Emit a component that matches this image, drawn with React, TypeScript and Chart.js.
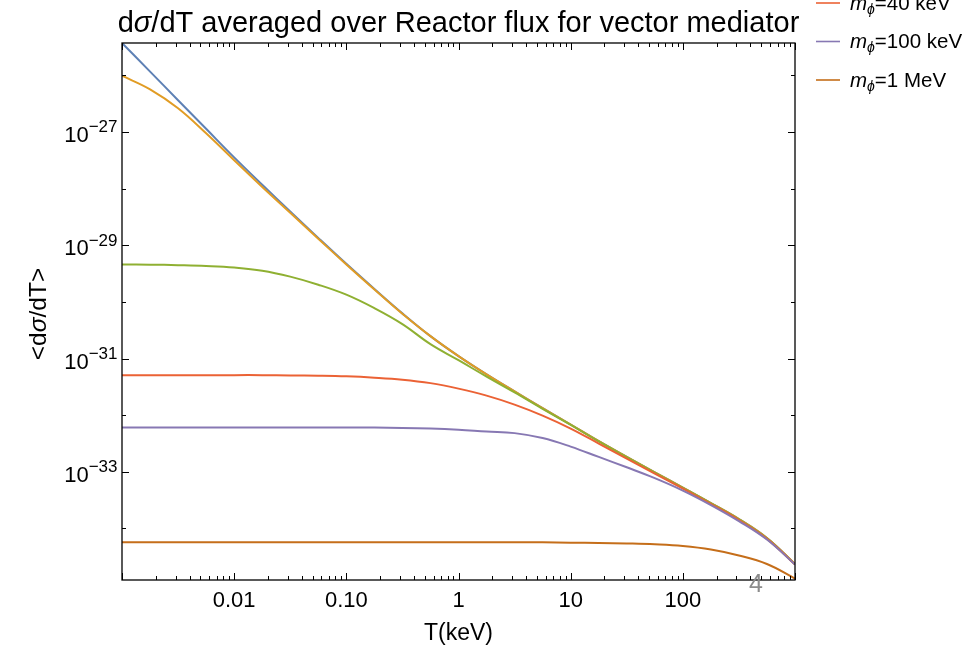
import React, { useEffect, useRef } from 'react';
import { Chart, registerables } from 'chart.js';

Chart.register(...registerables);

// ---- data ----
const T_keV = [
  0.001, 0.00178, 0.00316, 0.00562, 0.01, 0.0178, 0.0316, 0.0562, 0.1, 0.178, 0.316, 0.562, 1,
  1.78, 3.16, 5.62, 10, 17.8, 31.6, 56.2, 100, 178, 316, 562, 1000,
];

const massless = [
  3.72e-26, 1.164e-26, 3.64e-27, 1.138e-27, 3.56e-28, 1.17e-28, 3.95e-29, 1.35e-29, 4.7e-30, 1.69e-30, 6.27e-31, 2.483e-31, 1.102e-31,
  5.24e-32, 2.624e-32, 1.33e-32, 6.84e-33, 3.48e-33, 1.84e-33, 9.82e-34, 5.27e-34, 2.805e-34, 1.466e-34, 6.78e-35, 2.355e-35,
];
const m1keV = [
  9.82e-27, 5.66e-27, 2.62e-27, 9.48e-28, 3.17e-28, 1.069e-28, 3.75e-29, 1.3e-29, 4.59e-30, 1.656e-30, 6.17e-31, 2.483e-31, 1.102e-31,
  5.24e-32, 2.624e-32, 1.33e-32, 6.84e-33, 3.48e-33, 1.84e-33, 9.82e-34, 5.27e-34, 2.805e-34, 1.466e-34, 6.78e-35, 2.355e-35,
];
const m10keV = [
  4.57e-30, 4.54e-30, 4.45e-30, 4.31e-30, 4.05e-30, 3.56e-30, 2.79e-30, 2.01e-30, 1.34e-30, 7.74e-31, 4.05e-31, 1.795e-31, 9.35e-32,
  4.79e-32, 2.52e-32, 1.294e-32, 6.73e-33, 3.44e-33, 1.82e-33, 9.68e-34, 5.2e-34, 2.77e-34, 1.445e-34, 6.68e-35, 2.33e-35,
];
const m40keV = [
  5.09e-32, 5.09e-32, 5.09e-32, 5.09e-32, 5.09e-32, 5.09e-32, 5.02e-32, 4.97e-32, 4.85e-32, 4.6e-32, 4.24e-32, 3.68e-32, 2.94e-32,
  2.21e-32, 1.535e-32, 9.82e-33, 5.79e-33, 3.15e-33, 1.71e-33, 9.31e-34, 5.06e-34, 2.69e-34, 1.406e-34, 6.55e-35, 2.32e-35,
];
const m100keV = [
  6.08e-33, 6.08e-33, 6.08e-33, 6.08e-33, 6.08e-33, 6.08e-33, 6.08e-33, 6.08e-33, 6.03e-33, 6.03e-33, 5.96e-33, 5.79e-33, 5.51e-33,
  5.13e-33, 4.82e-33, 3.94e-33, 2.786e-33, 1.832e-33, 1.202e-33, 7.74e-34, 4.67e-34, 2.59e-34, 1.349e-34, 6.37e-35, 2.31e-35,
];
const m1MeV = [
  5.69e-35, 5.69e-35, 5.69e-35, 5.69e-35, 5.69e-35, 5.69e-35, 5.69e-35, 5.69e-35, 5.69e-35, 5.69e-35, 5.69e-35, 5.69e-35, 5.69e-35,
  5.69e-35, 5.69e-35, 5.69e-35, 5.61e-35, 5.55e-35, 5.43e-35, 5.24e-35, 4.89e-35, 4.24e-35, 3.33e-35, 2.355e-35, 1.306e-35,
];

const seriesValues = [massless, m1keV, m10keV, m40keV, m100keV, m1MeV];
const seriesMass = ['0', '1 keV', '10 keV', '40 keV', '100 keV', '1 MeV'];
const seriesColors = ['#5E81B5', '#E19C24', '#8FB032', '#EB6235', '#8778B3', '#C56E1A'];

const xLabelValues = [0.01, 0.1, 1, 10, 100];
const xLabelTexts = ['0.01', '0.10', '1', '10', '100'];
const yLabelExponents = [-27, -29, -31, -33];
const yMinorExponents = [-26, -28, -30, -32, -34];

const X_MIN = 0.001;
const X_MAX = 1000;
const Y_MIN = 1.23e-35;
const Y_MAX = 3.72e-26;

const FONT = '"Liberation Sans", Arial, Helvetica, sans-serif';

type Part = { t: string; italic?: boolean; size: number; dy?: number };

function drawRich(ctx: CanvasRenderingContext2D, parts: Part[], x: number, y: number, align: 'left' | 'center' | 'right') {
  let total = 0;
  const widths = parts.map((p) => {
    ctx.font = `${p.italic ? 'italic ' : ''}${p.size}px ${FONT}`;
    const w = ctx.measureText(p.t).width;
    total += w;
    return w;
  });
  let cx = align === 'center' ? x - total / 2 : align === 'right' ? x - total : x;
  ctx.textAlign = 'left';
  ctx.textBaseline = 'alphabetic';
  parts.forEach((p, i) => {
    ctx.font = `${p.italic ? 'italic ' : ''}${p.size}px ${FONT}`;
    ctx.fillText(p.t, cx, y + (p.dy || 0));
    cx += widths[i];
  });
}

const overlay = {
  id: 'overlay',
  afterDraw(chart: any) {
    const ctx: CanvasRenderingContext2D = chart.ctx;
    const xs = chart.scales.x;
    const ys = chart.scales.y;
    const { left, right, top, bottom } = chart.chartArea;
    ctx.save();
    ctx.strokeStyle = '#000';
    ctx.fillStyle = '#000';
    ctx.lineWidth = 1.3;
    ctx.strokeRect(left, top, right - left, bottom - top);

    // x ticks (major decades, minor 2..9)
    ctx.lineWidth = 1;
    ctx.beginPath();
    for (let d = -3; d <= 3; d++) {
      for (let k = 1; k <= 9; k++) {
        const v = k * Math.pow(10, d);
        if (v < X_MIN * 0.999 || v > X_MAX * 1.001) continue;
        const px = Math.round(xs.getPixelForValue(v)) + 0.5;
        const len = k === 1 ? 7 : 4;
        ctx.moveTo(px, bottom);
        ctx.lineTo(px, bottom - len);
        ctx.moveTo(px, top);
        ctx.lineTo(px, top + len);
      }
    }
    // y ticks
    const yTick = (e: number, len: number) => {
      const v = Math.pow(10, e);
      if (v < Y_MIN || v > Y_MAX) return;
      const py = Math.round(ys.getPixelForValue(v)) + 0.5;
      ctx.moveTo(left, py);
      ctx.lineTo(left + len, py);
      ctx.moveTo(right, py);
      ctx.lineTo(right - len, py);
    };
    yLabelExponents.forEach((e) => yTick(e, 7));
    yMinorExponents.forEach((e) => yTick(e, 4));
    ctx.stroke();

    // x tick labels
    xLabelValues.forEach((v, i) => {
      const px = xs.getPixelForValue(v);
      drawRich(ctx, [{ t: xLabelTexts[i], size: 22 }], px, bottom + 26.5, 'center');
    });
    // y tick labels
    yLabelExponents.forEach((e) => {
      const py = ys.getPixelForValue(Math.pow(10, e));
      drawRich(ctx, [{ t: '10', size: 22 }, { t: '\u2212' + String(-e), size: 17, dy: -9.5 }], left - 4.5, py + 10, 'right');
    });

    // title
    const cxPlot = (left + right) / 2;
    drawRich(
      ctx,
      [
        { t: 'd', size: 29 },
        { t: '\u03C3', size: 29, italic: true },
        { t: '/dT averaged over Reactor flux for vector mediator', size: 29 },
      ],
      cxPlot,
      32,
      'center'
    );

    // x axis title
    drawRich(ctx, [{ t: 'T(keV)', size: 23 }], cxPlot, 640, 'center');

    // y axis title (rotated)
    ctx.save();
    ctx.translate(46, 314);
    ctx.rotate(-Math.PI / 2);
    drawRich(
      ctx,
      [
        { t: '<d', size: 24.5 },
        { t: '\u03C3', size: 24.5, italic: true },
        { t: '/dT>', size: 24.5 },
      ],
      0,
      0,
      'center'
    );
    ctx.restore();

    // legend (top entries fall above the canvas, as in the reference)
    const lastY = 80;
    const step = 38.5;
    for (let i = 0; i < seriesMass.length; i++) {
      const ly = lastY - (seriesMass.length - 1 - i) * step;
      ctx.strokeStyle = seriesColors[i];
      ctx.lineWidth = 1.6;
      ctx.beginPath();
      ctx.moveTo(816, ly);
      ctx.lineTo(840, ly);
      ctx.stroke();
      ctx.fillStyle = '#000';
      drawRich(
        ctx,
        [
          { t: 'm', size: 20.5, italic: true },
          { t: '\u03D5', size: 14, italic: true, dy: 4 },
          { t: '=' + seriesMass[i], size: 20.5 },
        ],
        850,
        ly + 6.5,
        'left'
      );
    }

    // grey mark near the lower right corner
    ctx.fillStyle = '#8c8c8c';
    drawRich(ctx, [{ t: '4', size: 25 }], 749, 592, 'left');
    ctx.restore();
  },
};

export default function App() {
  const ref = useRef<HTMLCanvasElement | null>(null);
  useEffect(() => {
    if (!ref.current) return;
    const datasets = seriesValues.map((vals, i) => ({
      label: 'm=' + seriesMass[i],
      data: T_keV.map((t, j) => ({ x: t, y: vals[j] })),
      borderColor: seriesColors[i],
      backgroundColor: seriesColors[i],
      borderWidth: 2,
      pointRadius: 0,
      fill: false,
      tension: 0.4,
      order: -i,
    }));
    const chart = new Chart(ref.current, {
      type: 'line',
      data: { datasets },
      options: {
        responsive: false,
        animation: false,
        events: [],
        layout: { padding: { left: 122, right: 176, top: 43, bottom: 66 } },
        plugins: { legend: { display: false }, title: { display: false }, tooltip: { enabled: false } },
        scales: {
          x: { type: 'logarithmic', min: X_MIN, max: X_MAX, display: false },
          y: { type: 'logarithmic', min: Y_MIN, max: Y_MAX, display: false },
        },
      },
      plugins: [overlay],
    });
    return () => chart.destroy();
  }, []);
  return (
    <div style={{ position: 'fixed', left: 0, top: 0, width: 971, height: 646, background: '#fff' }}>
      <canvas ref={ref} width={971} height={646} style={{ display: 'block' }} />
    </div>
  );
}
